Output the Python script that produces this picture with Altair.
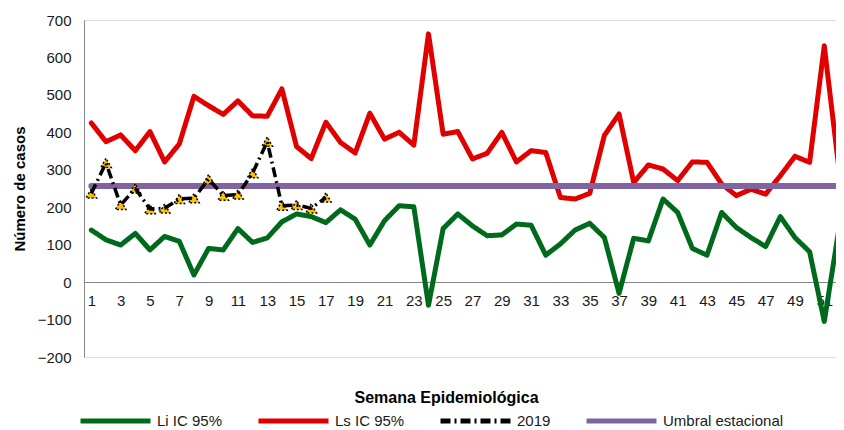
import altair as alt
import pandas as pd

# ---------------- data ----------------
weeks = list(range(1, 53))
li_ic = [139, 113, 99, 130, 86, 122, 109, 19, 90, 86, 143, 106, 118, 161, 182, 175, 159,
         193, 168, 99, 164, 204, 201, -62, 143, 182, 150, 124, 126, 155, 152, 72, 102, 139,
         157, 119, -30, 117, 110, 222, 186, 90, 72, 186, 146, 119, 95, 175, 119, 81, -105, 142]
ls_ic = [425, 375, 393, 351, 402, 321, 369, 496, 471, 448, 484, 444, 443, 516, 362, 330, 427,
         373, 345, 451, 382, 400, 366, 663, 395, 402, 329, 344, 400, 321, 351, 346, 226, 222,
         237, 392, 449, 266, 313, 302, 271, 321, 320, 262, 231, 248, 235, 284, 336, 320, 631, 302]
weeks_2019 = list(range(1, 18))
casos_2019 = [237, 318, 206, 250, 195, 197, 222, 224, 275, 231, 234, 291, 375, 204, 206, 197, 226]
umbral_weeks = [1, 52]
umbral_values = [257, 257]

x_ticks = list(range(1, 53, 2))
y_ticks = [-200, -100, 0, 100, 200, 300, 400, 500, 600, 700]

series_names = ["Li IC 95%", "Ls IC 95%", "2019", "Umbral estacional"]
series_colors = ["#006A1C", "#E00000", "#000000", "#8064A2"]
series_dash = [[1, 0], [1, 0], [10, 4, 2, 4], [1, 0]]

# ---------------- tables ----------------
df_ci = pd.concat([
    pd.DataFrame({"semana": weeks, "valor": li_ic, "serie": series_names[0]}),
    pd.DataFrame({"semana": weeks, "valor": ls_ic, "serie": series_names[1]}),
])
df_umbral = pd.DataFrame({"semana": umbral_weeks, "valor": umbral_values, "serie": series_names[3]})
df_2019 = pd.DataFrame({"semana": weeks_2019, "valor": casos_2019, "serie": series_names[2]})

FONT = "Liberation Sans"
W, H = 752, 337

x_enc = alt.X(
    "semana:Q",
    scale=alt.Scale(domain=[0.5, 51.8], nice=False, zero=False),
    axis=alt.Axis(
        values=x_ticks, offset=-75, ticks=False, grid=False, domainColor="#868686",
        domainWidth=1, labelFont=FONT, labelFontSize=15, labelColor="#1a1a1a",
        labelPadding=11, labelFlush=False, labelOverlap=False,
        title="Semana Epidemiológica", titleFont=FONT, titleFontSize=16,
        titleFontWeight="bold", titleColor="#000000", titleY=107, titleX=362,
        titleBaseline="top", titleAlign="center",
    ),
)
y_enc = alt.Y(
    "valor:Q",
    scale=alt.Scale(domain=[-200, 700], nice=False, zero=False),
    axis=alt.Axis(
        values=y_ticks, ticks=False, grid=False, domainColor="#868686", domainWidth=1,
        labelFont=FONT, labelFontSize=15, labelColor="#1a1a1a", labelPadding=13,
        labelFlush=False, labelOverlap=False,
        title="Número de casos", titleFont=FONT, titleFontSize=15, titleFontWeight="bold",
        titleColor="#000000", titlePadding=10,
    ),
)

legend = alt.Legend(
    orient="none", legendX=-6, legendY=393, direction="horizontal", columns=4,
    symbolType="stroke", symbolSize=4900, symbolStrokeWidth=5, clipHeight=16,
    labelFont=FONT, labelFontSize=15, labelColor="#1a1a1a", labelOffset=4,
    columnPadding=33, title=None,
)
color_enc = alt.Color("serie:N", scale=alt.Scale(domain=series_names, range=series_colors),
                      legend=legend, title=None)
dash_enc = alt.StrokeDash("serie:N", scale=alt.Scale(domain=series_names, range=series_dash),
                          legend=legend, title=None)

ci_lines = alt.Chart(df_ci).mark_line(
    strokeWidth=5, strokeCap="round", strokeJoin="round", clip=True
).encode(x=x_enc, y=y_enc, color=color_enc, strokeDash=dash_enc, detail="serie:N")
umbral_line = alt.Chart(df_umbral).mark_line(
    strokeWidth=6, strokeCap="round", strokeJoin="round", clip=True
).encode(x=x_enc, y=y_enc, color=color_enc, strokeDash=dash_enc)
pts_2019 = alt.Chart(df_2019).mark_point(
    shape="triangle-up", filled=True, fill="#FFC000", stroke="#000000", strokeWidth=1.5,
    strokeDash=[2, 2], size=110, opacity=1, fillOpacity=1, clip=True
).encode(x=x_enc, y=y_enc)
line_2019 = alt.Chart(df_2019).mark_line(
    strokeWidth=3.5, strokeJoin="round", clip=True
).encode(x=x_enc, y=y_enc, color=color_enc, strokeDash=dash_enc)

chart = alt.layer(ci_lines, umbral_line, pts_2019, line_2019).properties(
    width=W, height=H,
    padding={"left": 4, "top": 5, "right": 0, "bottom": 0},
).configure_view(stroke=None).configure(background="white")

chart.save("out.html", embed_options={"renderer": "svg", "actions": False})
